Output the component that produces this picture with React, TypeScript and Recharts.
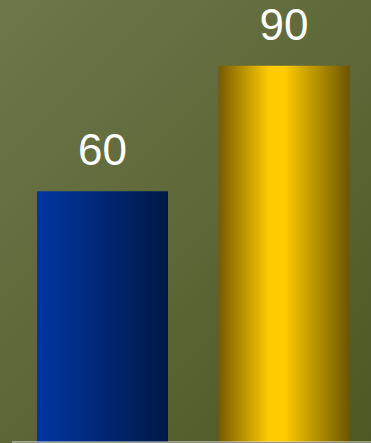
import { BarChart, Bar, XAxis, YAxis, Cell, LabelList, ReferenceLine } from 'recharts'

const CATEGORIES = ['A', 'B']
const VALUES = [60, 90]
const FILLS = ['url(#blueGrad)', 'url(#goldGrad)']

const data = CATEGORIES.map((name, i) => ({ name, value: VALUES[i] }))

export default function App() {
  return (
    <div
      style={{
        position: 'fixed',
        left: 0,
        top: 0,
        width: 371,
        height: 443,
        overflow: 'hidden',
        background: 'linear-gradient(135deg, #6d774b 0%, #5c6636 55%, #4d5823 100%)',
      }}
    >
      <BarChart
        width={375}
        height={443}
        data={data}
        margin={{ top: 24, right: 0, left: 12, bottom: 1 }}
        barSize={131}
      >
        <defs>
          <linearGradient id="blueGrad" x1="0" y1="0" x2="1" y2="0">
            <stop offset="0%" stopColor="#0036a2" />
            <stop offset="100%" stopColor="#001846" />
          </linearGradient>
          <linearGradient id="goldGrad" x1="0" y1="0" x2="1" y2="0">
            <stop offset="0%" stopColor="#765a00" />
            <stop offset="38%" stopColor="#fcca00" />
            <stop offset="50%" stopColor="#ffcc00" />
            <stop offset="100%" stopColor="#6c5600" />
          </linearGradient>
        </defs>
        <XAxis dataKey="name" hide />
        <YAxis domain={[0, 100]} hide />
        <Bar dataKey="value" isAnimationActive={false}>
          {data.map((d, i) => (
            <Cell key={d.name} fill={FILLS[i]} />
          ))}
          <LabelList
            dataKey="value"
            position="top"
            offset={26}
            fill="#ffffff"
            style={{ fontSize: 44, fontFamily: '"Liberation Sans", Arial, sans-serif' }}
          />
        </Bar>
        <ReferenceLine y={0} stroke="#d8d8d8" strokeWidth={1} />
      </BarChart>
    </div>
  )
}
